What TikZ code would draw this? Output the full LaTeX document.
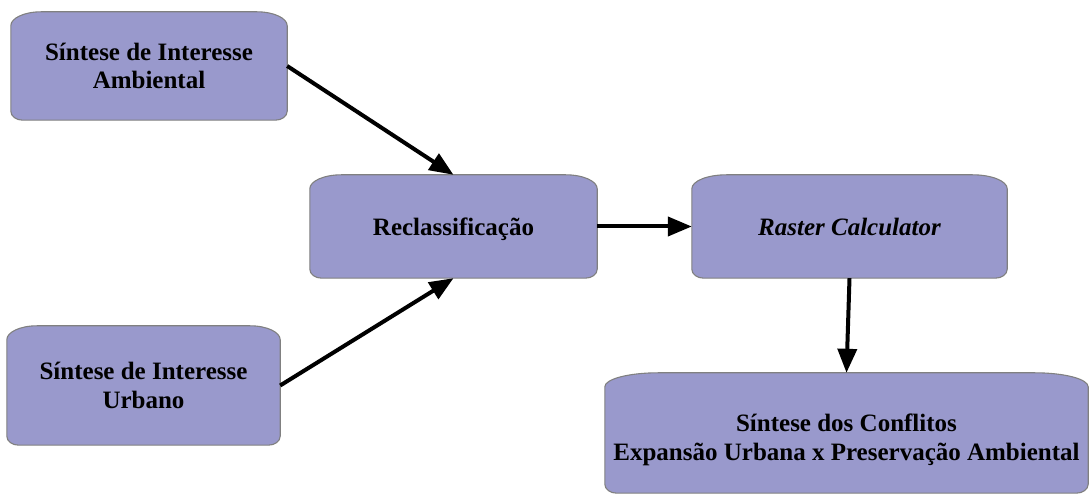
\documentclass[tikz,border=0pt]{standalone}
\usepackage{fontspec}
\setmainfont{Liberation Serif}
\usetikzlibrary{arrows.meta,backgrounds,calc}

\definecolor{boxfill}{HTML}{9999CC}
\definecolor{boxline}{HTML}{808080}

\tikzset{
  stage/.style={rectangle, inner sep=0pt, align=center,
    font=\fontsize{25}{28.5}\selectfont\bfseries},
  flow/.style={line width=4pt, -{Triangle[length=24pt,width=19pt]}},
  outline/.style={fill=boxfill, draw=boxline, line width=1.1pt},
}

% lower a label inside its box without changing the box size
\newcommand\lowered[2]{\raisebox{-#1}[\height][\depth]{#2}}

% rounded box behind a stage node: wide elliptic top corners, small bottom ones
\newcommand\stageoutline[1]{%
  \path[outline] let \p1=(#1.south west), \p2=(#1.north east),
      \n1={0.11*(\x2-\x1)} in
    (\x1,\y1+9pt) -- (\x1,\y2-14pt)
    arc[start angle=180,end angle=90,x radius=\n1,y radius=14pt]
    -- (\x2-\n1,\y2)
    arc[start angle=90,end angle=0,x radius=\n1,y radius=14pt]
    -- (\x2,\y1+9pt)
    arc[start angle=0,end angle=-90,x radius=12pt,y radius=9pt]
    -- (\x1+12pt,\y1)
    arc[start angle=270,end angle=180,x radius=12pt,y radius=9pt]
    -- cycle;}

\begin{document}
\begin{tikzpicture}[x=1pt,y=1pt]
  \useasboundingbox (0,0) rectangle (1089,495);

  \node[stage, minimum width=276pt, minimum height=108pt] (amb) at (149,429)
    {Síntese de Interesse\\Ambiental};
  \node[stage, minimum width=273pt, minimum height=119pt] (urb) at (143.5,109.5)
    {Síntese de Interesse\\Urbano};
  \node[stage, minimum width=287pt, minimum height=103pt] (recl) at (453.5,268.5)
    {\lowered{3pt}{Reclassificação}};
  \node[stage, minimum width=315pt, minimum height=103pt] (calc) at (849.5,268.5)
    {\itshape Raster Calculator};
  \node[stage, minimum width=483pt, minimum height=120pt] (conf) at (846.5,62)
    {\lowered{7pt}{\begin{tabular}{@{}c@{}}Síntese dos Conflitos\\[0.5pt]Expansão Urbana x Preservação Ambiental\end{tabular}}};

  \begin{scope}[on background layer]
    \stageoutline{amb}
    \stageoutline{urb}
    \stageoutline{recl}
    \stageoutline{calc}
    \stageoutline{conf}
  \end{scope}

  \draw[flow] (amb.east) -- (recl.north);
  \draw[flow] (urb.east) -- (recl.south);
  \draw[flow] (recl.east) -- (calc.west);
  \draw[flow] (calc.south) -- (conf.north);
\end{tikzpicture}
\end{document}
